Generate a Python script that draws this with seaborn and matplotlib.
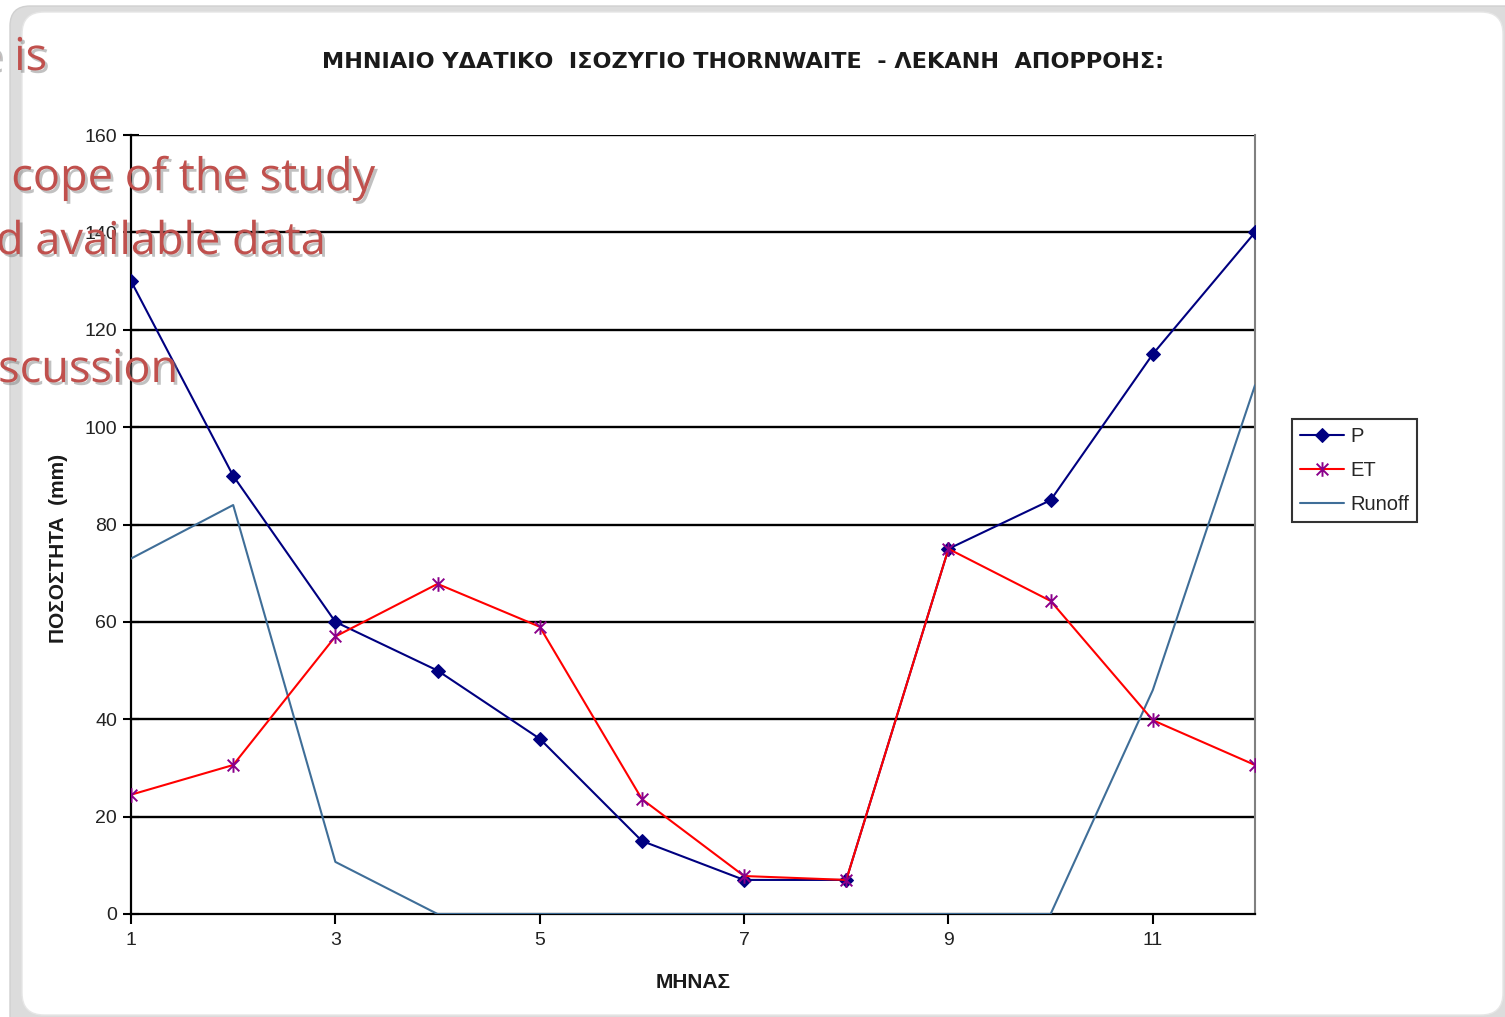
import numpy as np
import pandas as pd
import matplotlib
matplotlib.use("Agg")
import matplotlib.pyplot as plt
import seaborn as sns
from matplotlib.path import Path
from matplotlib.patches import FancyBboxPatch
import matplotlib.patheffects as pe

# ---- data ----
months = [1, 2, 3, 4, 5, 6, 7, 8, 9, 10, 11, 12]
P = [130, 90, 60, 50, 36, 15, 7, 7, 75, 85, 115, 140]
ET = [24.5, 30.6, 57, 67.8, 59, 23.6, 7.8, 7, 75, 64.3, 39.8, 30.6]
Runoff = [73, 84, 10.7, 0, 0, 0, 0, 0, 0, 0, 46, 108.6]
series_names = ["P", "ET", "Runoff"]
xticks = [1, 3, 5, 7, 9, 11]
yticks = [0, 20, 40, 60, 80, 100, 120, 140, 160]
title = "ΜΗΝΙΑΙΟ ΥΔΑΤΙΚΟ  ΙΣΟΖΥΓΙΟ THORNWAITE  - ΛΕΚΑΝΗ  ΑΠΟΡΡΟΗΣ:"
xlabel = "ΜΗΝΑΣ"
ylabel = "ΠΟΣΟΣΤΗΤΑ  (mm)"
overlay_lines = ["e is", "cope of the study", "d available data", "scussion"]

df = pd.DataFrame({"month": months, "P": P, "ET": ET, "Runoff": Runoff})

sns.set_theme(style="white")
plt.rcParams["font.family"] = ["Liberation Sans", "DejaVu Sans"]

W, H = 1505, 1017
fig = plt.figure(figsize=(W / 100, H / 100), dpi=100)
fig.patch.set_facecolor("white")

# background frame (pixel coordinates)
bg = fig.add_axes([0, 0, 1, 1], zorder=-5)
bg.set_xlim(0, W)
bg.set_ylim(H, 0)
bg.axis("off")
bg.add_patch(FancyBboxPatch((10, 6), W + 40, H + 40,
                            boxstyle="round,pad=0,rounding_size=20",
                            fc="#dcdcdc", ec="#d0d0d0", lw=1))
bg.add_patch(FancyBboxPatch((22, 12), W - 24, H - 14,
                            boxstyle="round,pad=0,rounding_size=22",
                            fc="white", ec="#e6e6e6", lw=1))

# main axes
L, R, T, B = 131, 1255, 135, 914
ax = fig.add_axes([L / W, 1 - B / H, (R - L) / W, (B - T) / H], zorder=1)
ax.set_facecolor("white")
ax.patch.set_alpha(0)

star = Path([(-1, -1), (1, 1), (-1, 1), (1, -1), (0, -1.25), (0, 1.25)],
            [Path.MOVETO, Path.LINETO, Path.MOVETO, Path.LINETO, Path.MOVETO, Path.LINETO])

runoff_c = "#3F6E98"
sns.lineplot(data=df, x="month", y="Runoff", ax=ax, color=runoff_c, lw=1.5,
             label=series_names[2], zorder=3)
sns.lineplot(data=df, x="month", y="P", ax=ax, color="#000080", lw=1.5,
             marker="D", markersize=7.5, markeredgecolor="#000080",
             markerfacecolor="#000080", label=series_names[0], zorder=4)
sns.lineplot(data=df, x="month", y="ET", ax=ax, color="#FF0000", lw=1.5,
             marker=star, markersize=10.5, markeredgecolor="#8B008B",
             markeredgewidth=1.4, markerfacecolor="none", label=series_names[1], zorder=5)

ax.set_xlim(1, 12)
ax.set_ylim(0, 160)
ax.set_xticks(xticks)
ax.set_yticks(yticks)
ax.set_xlabel("")
ax.set_ylabel("")
ax.grid(False)
for y in yticks[1:]:
    ax.axhline(y, color="black", lw=1.7, zorder=1)
ax.spines["left"].set_color("black")
ax.spines["left"].set_linewidth(1.6)
ax.spines["bottom"].set_color("black")
ax.spines["bottom"].set_linewidth(1.6)
ax.spines["right"].set_color("#808080")
ax.spines["right"].set_linewidth(1.5)
ax.spines["top"].set_visible(False)
ax.tick_params(axis="y", direction="inout", length=12, width=1.5, colors="black",
               labelsize=14, labelcolor="#222222", pad=4, left=True)
ax.tick_params(axis="x", direction="out", length=7, width=1.5, colors="black",
               labelsize=14, labelcolor="#222222", pad=6, bottom=True)

# legend
handles, labels = ax.get_legend_handles_labels()
order = [labels.index(n) for n in series_names]
if ax.get_legend():
    ax.get_legend().remove()
leg = fig.legend([handles[i] for i in order], [labels[i] for i in order],
                 loc="upper left", bbox_to_anchor=(1292 / W, 1 - 419 / H),
                 frameon=True, fancybox=False, edgecolor="black", fontsize=14.5,
                 handlelength=2.2, handletextpad=0.3, borderpad=0.4,
                 labelspacing=0.75, borderaxespad=0)
leg.get_frame().set_linewidth(1.5)

# titles and labels
t = fig.text(743 / W, 1 - 62 / H, title, ha="center", va="center",
             fontsize=15.5, fontweight="bold", color="#1a1a1a",
             family=["DejaVu Sans"])
# fit the title width to the reference width
fig.canvas.draw()
w = t.get_window_extent(fig.canvas.get_renderer()).width
t.set_fontsize(15.5 * 843 / w)

fig.text(693 / W, 1 - 982 / H, xlabel, ha="center", va="center",
         fontsize=15, fontweight="bold", color="#1a1a1a")
fig.text(58 / W, 1 - 548 / H, ylabel, ha="center", va="center", rotation=90,
         fontsize=15, fontweight="bold", color="#1a1a1a")

# overlaid red slide text
red = "#C0504D"
shadow = [pe.withSimplePatchShadow(offset=(2, -2), shadow_rgbFace="#777777", alpha=0.45)]
positions = [(47, 58), (375, 178), (326, 242), (178, 370)]
for txt, (xr, yc) in zip(overlay_lines, positions):
    fig.text(xr / W, 1 - yc / H, txt, ha="right", va="center", fontsize=32.5,
             color=red, family=["Open Sans", "DejaVu Sans"], zorder=20,
             path_effects=shadow)

fig.savefig("out.png", dpi=100)
